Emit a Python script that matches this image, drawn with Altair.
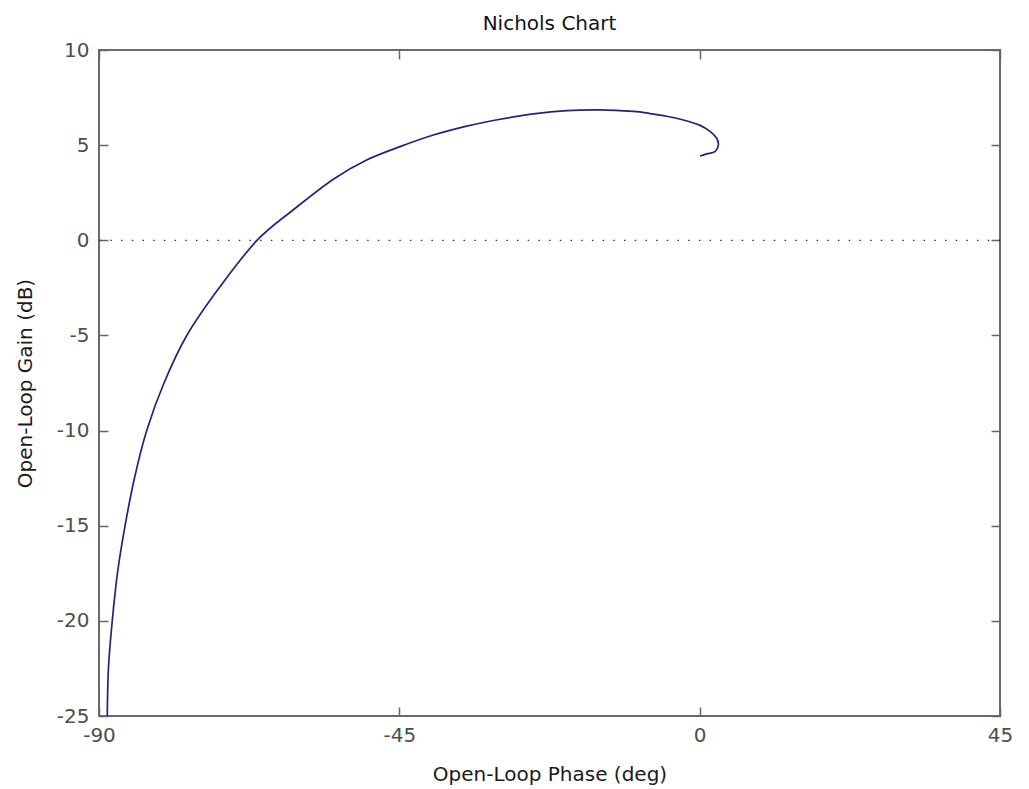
import altair as alt
import pandas as pd

# Open-loop phase (deg) and gain (dB)
phase = [-88.76, -88.58, -88.01, -87.23, -86.10, -84.68, -82.85, -80.26, -76.81, -72.02,
         -66.37, -60.93, -54.89, -49.9, -44.9, -39.9, -34.9, -29.9, -24.9, -19.9,
         -15.0, -9.94, -7.44, -4.94, -2.45, 0.06, 1.55, 2.55, 2.8, 2.3, 1.05, 0.06]
gain = [-25.0, -22.47, -19.99, -17.48, -15.01, -12.49, -10.0, -7.5, -4.98, -2.51,
        -0.02, 1.59, 3.21, 4.22, 4.92, 5.53, 6.0, 6.36, 6.64, 6.81,
        6.85, 6.77, 6.66, 6.52, 6.32, 6.04, 5.72, 5.36, 5.0, 4.66, 4.54, 4.43]
x_ticks = [-90, -45, 0, 45]
y_ticks = [-25, -20, -15, -10, -5, 0, 5, 10]
zero_gain = [0]
title_text = "Nichols Chart"

df = pd.DataFrame({"phase": phase, "gain": gain, "idx": list(range(len(phase)))})
zdf = pd.DataFrame({"g": zero_gain})

W, H = 901, 666
FONT = "DejaVu Sans"
xscale = alt.Scale(domain=[-90, 45], nice=False, zero=False)
yscale = alt.Scale(domain=[-25, 10], nice=False, zero=False)
LABEL_EXPR = "'' + datum.value"

label_x = alt.Axis(orient="bottom", values=x_ticks, ticks=False, domain=False, grid=False,
                   labelFont=FONT, labelFontSize=20, labelColor="#4e4e4e", labelPadding=9,
                   labelFlush=False, labelOverlap=False, labelExpr=LABEL_EXPR,
                   title="Open-Loop Phase (deg)", titleFont=FONT, titleFontSize=20,
                   titleFontWeight="normal", titleColor="#1a1a1a", titleY=64,
                   titleBaseline="alphabetic")
label_y = alt.Axis(orient="left", values=y_ticks, ticks=False, domain=False, grid=False,
                   labelFont=FONT, labelFontSize=20, labelColor="#4e4e4e", labelPadding=10,
                   labelFlush=False, labelOverlap=False, labelExpr=LABEL_EXPR,
                   title="Open-Loop Gain (dB)", titleFont=FONT, titleFontSize=20,
                   titleFontWeight="normal", titleColor="#1a1a1a", titleX=-74, titleY=H / 2,
                   titleAngle=270, titleAlign="center", titleBaseline="middle")

def tick_axis(orient, values, offset):
    return alt.Axis(orient=orient, values=values, offset=offset, labels=False, domain=False,
                    grid=False, ticks=True, tickSize=9, tickColor="#666666", tickWidth=1.5,
                    title="")

zero_line = alt.Chart(zdf).mark_rule(color="#333333", strokeWidth=1.3,
                                     strokeDash=[1.5, 9.2]).encode(
    y=alt.Y("g:Q", scale=yscale, axis=None)
)

curve = alt.Chart(df).mark_line(color="#23237e", strokeWidth=1.7, interpolate="cardinal").encode(
    x=alt.X("phase:Q", scale=xscale, axis=label_x),
    y=alt.Y("gain:Q", scale=yscale, axis=label_y),
    order=alt.Order("idx:Q"),
)

ticks_b = alt.Chart(df).mark_point(opacity=0).encode(
    x=alt.X("phase:Q", scale=xscale, axis=tick_axis("top", x_ticks, -H)),
    y=alt.Y("gain:Q", scale=yscale, axis=tick_axis("right", y_ticks, -W)),
)
ticks_c = alt.Chart(df).mark_point(opacity=0).encode(
    x=alt.X("phase:Q", scale=xscale, axis=tick_axis("bottom", x_ticks, -H)),
    y=alt.Y("gain:Q", scale=yscale, axis=tick_axis("left", y_ticks, -W)),
)

title_mark = alt.Chart(zdf).mark_text(text=title_text, font=FONT, fontSize=20,
                                      color="#111111", align="center",
                                      baseline="alphabetic").encode(
    x=alt.value(W / 2), y=alt.value(-20)
)

chart = alt.layer(zero_line, curve, ticks_b, ticks_c, title_mark).resolve_axis(
    x="independent", y="independent"
).properties(
    width=W, height=H,
    autosize=alt.AutoSizeParams(type="none"),
    padding={"left": 91, "top": 42, "right": 20, "bottom": 73},
).configure(background="white").configure_view(stroke="#6a6a6a", strokeWidth=2)

chart.save("out.html", embed_options={"renderer": "svg", "actions": False})
